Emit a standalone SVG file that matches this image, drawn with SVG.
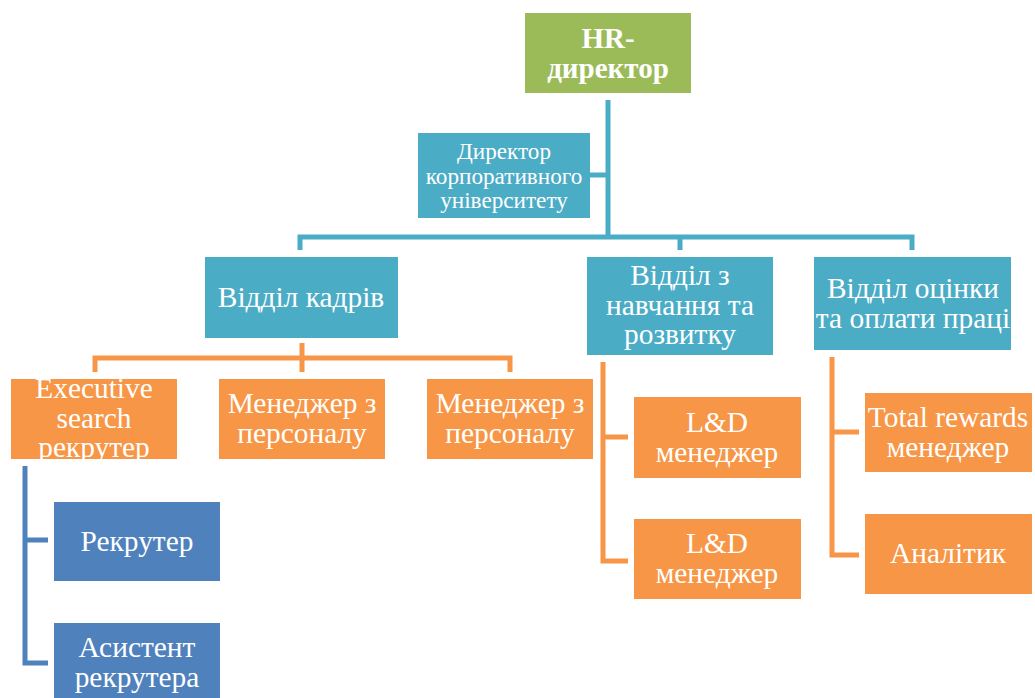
<svg xmlns="http://www.w3.org/2000/svg" width="1035" height="698" viewBox="0 0 1035 698">
  <style>
    text { font-family: "Liberation Serif", "DejaVu Serif", serif; fill: #ffffff; text-anchor: middle; }
    .t25 { font-size: 29.4px; }
    .t21 { font-size: 23.2px; }
    .hr { font-size: 29px; font-weight: bold; }
    .green { fill: #9BBB59; }
    .teal { fill: #4BACC6; }
    .orange { fill: #F79646; }
    .blue { fill: #4F81BD; }
    .lt { fill: none; stroke: #4BACC6; stroke-width: 5; }
    .lo { fill: none; stroke: #F79646; stroke-width: 5; }
    .lb { fill: none; stroke: #4F81BD; stroke-width: 5; }
  </style>
  <defs>
    <clipPath id="clipExec"><rect x="11" y="379" width="166" height="80"/></clipPath>
    <clipPath id="clipAsst"><rect x="54" y="623" width="166" height="75"/></clipPath>
  </defs>
  <rect width="1035" height="698" fill="#ffffff"/>

  <!-- connectors -->
  <g id="connectors">
    <path class="lt" d="M608 100 V237 M590 175 H608 M300 250 V237 H912 V250 M680 237 V250"/>
    <path class="lo" d="M302 343 V358 M95 372 V358 H510 V372 M302 358 V372"/>
    <path class="lb" d="M25 466 V663 H48 M25 540 H48"/>
    <path class="lo" d="M603 362 V561 H628 M603 437 H628"/>
    <path class="lo" d="M832 357 V555 H859 M832 432 H859"/>
  </g>

  <g id="hr-director">
    <rect class="green" x="525" y="13" width="166" height="80"/>
    <text class="hr" x="608" y="48">HR-</text>
    <text class="hr" x="608" y="78">директор</text>
  </g>

  <g id="univ-director">
    <rect class="teal" x="418" y="133" width="172" height="85"/>
    <text class="t21" x="504" y="159">Директор</text>
    <text class="t21" x="504" y="183.5">корпоративного</text>
    <text class="t21" x="504" y="208">університету</text>
  </g>

  <g id="dept-staff">
    <rect class="teal" x="205" y="257" width="193" height="81"/>
    <text class="t25" x="301" y="307">Відділ кадрів</text>
  </g>

  <g id="dept-learning">
    <rect class="teal" x="587" y="257" width="186" height="98"/>
    <text class="t25" x="680" y="285">Відділ з</text>
    <text class="t25" x="680" y="315">навчання та</text>
    <text class="t25" x="680" y="344">розвитку</text>
  </g>

  <g id="dept-rewards">
    <rect class="teal" x="814" y="257" width="197" height="93"/>
    <text class="t25" x="913" y="298">Відділ оцінки</text>
    <text class="t25" x="913" y="328">та оплати праці</text>
  </g>

  <g id="exec-recruiter">
    <rect class="orange" x="11" y="379" width="166" height="80"/>
    <g clip-path="url(#clipExec)">
      <text class="t25" x="94" y="398">Executive</text>
      <text class="t25" x="94" y="428">search</text>
      <text class="t25" x="94" y="457">рекрутер</text>
    </g>
  </g>

  <g id="hr-manager-1">
    <rect class="orange" x="219" y="379" width="166" height="80"/>
    <text class="t25" x="302" y="413">Менеджер з</text>
    <text class="t25" x="302" y="443">персоналу</text>
  </g>

  <g id="hr-manager-2">
    <rect class="orange" x="427" y="379" width="166" height="80"/>
    <text class="t25" x="510" y="413">Менеджер з</text>
    <text class="t25" x="510" y="443">персоналу</text>
  </g>

  <g id="recruiter">
    <rect class="blue" x="54" y="502" width="166" height="79"/>
    <text class="t25" x="137" y="551">Рекрутер</text>
  </g>

  <g id="recruiter-assistant">
    <rect class="blue" x="54" y="623" width="166" height="80"/>
    <g clip-path="url(#clipAsst)">
      <text class="t25" x="137" y="657">Асистент</text>
      <text class="t25" x="137" y="687">рекрутера</text>
    </g>
  </g>

  <g id="ld-manager-1">
    <rect class="orange" x="634" y="397" width="167" height="81"/>
    <text class="t25" x="717" y="432">L&amp;D</text>
    <text class="t25" x="717" y="462">менеджер</text>
  </g>

  <g id="ld-manager-2">
    <rect class="orange" x="634" y="519" width="167" height="80"/>
    <text class="t25" x="717" y="553">L&amp;D</text>
    <text class="t25" x="717" y="583">менеджер</text>
  </g>

  <g id="total-rewards">
    <rect class="orange" x="865" y="393" width="167" height="79"/>
    <text class="t25" x="948" y="427">Total rewards</text>
    <text class="t25" x="948" y="457">менеджер</text>
  </g>

  <g id="analyst">
    <rect class="orange" x="865" y="514" width="167" height="80"/>
    <text class="t25" x="948" y="563">Аналітик</text>
  </g>
</svg>
